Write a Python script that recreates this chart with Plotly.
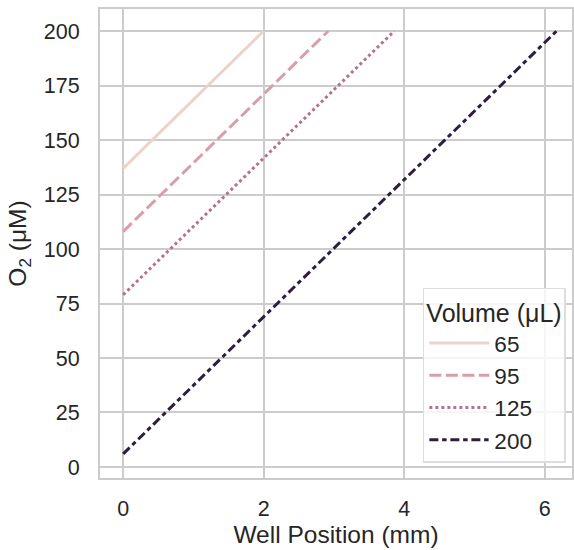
import plotly.graph_objects as go

volumes = ["65", "95", "125", "200"]
x_start = [0.0, 0.0, 0.0, 0.0]
x_end = [2.0, 2.92, 3.86, 6.17]
y_start = [137.0, 108.0, 79.0, 6.0]
y_end = [200.0, 200.0, 200.0, 200.0]

x_ticks = [0, 2, 4, 6]
y_ticks = [0, 25, 50, 75, 100, 125, 150, 175, 200]

colors = ["#edd1cb", "#d89faa", "#b57194", "#2d1e3e"]
dashes = ["solid", "12px,4.5px", "3px,3px", "9px,3.75px,4.5px,3.75px"]

FONT = "Liberation Sans, Arial, sans-serif"
TXT = "#262626"
GRID = "#cccccc"

fig = go.Figure()
for i, v in enumerate(volumes):
    fig.add_trace(go.Scatter(
        x=[x_start[i], x_end[i]],
        y=[y_start[i], y_end[i]],
        mode="lines",
        name=v,
        line=dict(color=colors[i], width=3, dash=dashes[i]),
        hoverinfo="skip",
    ))

fig.update_layout(
    width=574, height=550,
    margin=dict(l=100, r=0, t=9, b=72),
    paper_bgcolor="white", plot_bgcolor="white",
    font=dict(family=FONT, color=TXT, size=21.5),
    showlegend=True,
    legend=dict(
        title=dict(text="Volume (μL)", font=dict(size=25, family=FONT, color=TXT)),
        font=dict(size=22.5, family=FONT, color=TXT),
        itemwidth=60,
        x=0.987, y=0.032, xanchor="right", yanchor="bottom",
        bgcolor="rgba(255,255,255,0.8)",
        bordercolor="#dddddd", borderwidth=1.5,
    ),
    xaxis=dict(
        range=[-0.33, 6.39],
        tickvals=x_ticks,
        ticktext=[str(t) for t in x_ticks],
        showgrid=True, gridcolor=GRID, gridwidth=2,
        zeroline=False,
        showline=True, linecolor=GRID, linewidth=2, mirror=True,
        ticks="", ticklabelstandoff=10,
        tickfont=dict(size=21.5, family=FONT, color=TXT),
        title=dict(text="Well Position (mm)", font=dict(size=24.5, family=FONT, color=TXT), standoff=4),
    ),
    yaxis=dict(
        range=[-5.05, 210.1],
        tickvals=y_ticks,
        ticktext=[str(t) for t in y_ticks],
        showgrid=True, gridcolor=GRID, gridwidth=2,
        zeroline=False,
        showline=True, linecolor=GRID, linewidth=2, mirror=True,
        ticks="", ticklabelstandoff=14,
        tickfont=dict(size=21.5, family=FONT, color=TXT),
        title=dict(text="O<sub>2</sub> (μM)", font=dict(size=24.5, family=FONT, color=TXT), standoff=10),
    ),
)

fig.write_html("out.html", config={"displayModeBar": False})
